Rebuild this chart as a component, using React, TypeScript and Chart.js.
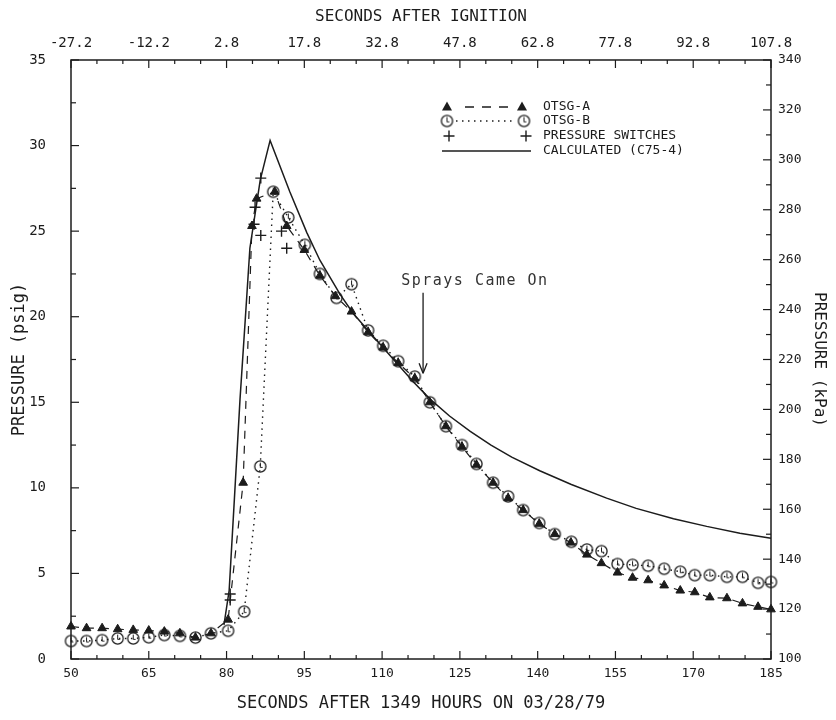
import React, { useEffect, useRef } from 'react';
import { Chart, registerables } from 'chart.js';

Chart.register(...registerables);

const INK = '#1c1c1c';
const MONO = '"DejaVu Sans Mono", "Liberation Mono", monospace';

// ---- data (seconds after 1349 hours, pressure psig) ----
const otsgATime = [50, 53, 56, 59, 62, 65, 68, 71, 74, 77, 80.3, 83.2, 84.9, 85.8, 89.3, 91.6, 95, 98, 101, 104.1, 107.3, 110.2, 113.1, 116.3, 119.2, 122.3, 125.4, 128.2, 131.4, 134.3, 137.2, 140.3, 143.3, 146.4, 149.5, 152.3, 155.4, 158.3, 161.3, 164.4, 167.5, 170.3, 173.2, 176.5, 179.5, 182.5, 185];
const otsgAPsig = [1.9, 1.8, 1.8, 1.74, 1.7, 1.66, 1.6, 1.5, 1.25, 1.5, 2.3, 10.3, 25.3, 26.9, 27.3, 25.3, 23.9, 22.4, 21.2, 20.3, 19.1, 18.2, 17.3, 16.4, 15.0, 13.6, 12.4, 11.35, 10.3, 9.4, 8.7, 7.9, 7.3, 6.8, 6.1, 5.6, 5.05, 4.75, 4.6, 4.3, 4.0, 3.9, 3.6, 3.55, 3.25, 3.05, 2.9];

const otsgBTime = [50, 53, 56, 59, 62, 65, 68, 71, 74, 77, 80.3, 83.4, 86.5, 89.0, 91.9, 95.1, 98, 101.2, 104.1, 107.3, 110.2, 113.1, 116.3, 119.2, 122.3, 125.4, 128.2, 131.4, 134.3, 137.2, 140.3, 143.3, 146.5, 149.5, 152.3, 155.4, 158.3, 161.3, 164.4, 167.5, 170.3, 173.2, 176.5, 179.5, 182.5, 185];
const otsgBPsig = [1.05, 1.05, 1.1, 1.2, 1.2, 1.27, 1.4, 1.35, 1.25, 1.5, 1.65, 2.77, 11.25, 27.3, 25.8, 24.2, 22.5, 21.1, 21.9, 19.2, 18.3, 17.4, 16.5, 15.0, 13.6, 12.5, 11.4, 10.3, 9.5, 8.7, 7.95, 7.3, 6.85, 6.4, 6.3, 5.55, 5.5, 5.45, 5.27, 5.1, 4.9, 4.9, 4.8, 4.8, 4.45, 4.5];

const switchTime = [80.7, 80.7, 85.3, 85.5, 86.6, 86.6, 90.6, 91.6];
const switchPsig = [3.45, 3.8, 25.4, 26.4, 28.1, 24.75, 25.0, 24.0];

const calcTime = [79.5, 80.5, 81.5, 82.6, 83.6, 84.5, 86.5, 88.4, 92.2, 95.5, 98, 101.9, 104.4, 108.3, 112.8, 116, 119.2, 123, 127, 131, 135, 140.4, 146.5, 153.3, 159, 166.2, 172.6, 179, 185];
const calcPsig = [2.0, 4.0, 9.3, 15.2, 19.8, 24.0, 28.0, 30.3, 27.3, 24.9, 23.3, 21.3, 20.2, 18.85, 17.3, 16.2, 15.2, 14.2, 13.3, 12.5, 11.8, 11.0, 10.2, 9.4, 8.8, 8.2, 7.75, 7.35, 7.05];

// ---- axes ----
const bottomTickValues = [50, 65, 80, 95, 110, 125, 140, 155, 170, 185];
const topTickValues = [-27.2, -12.2, 2.8, 17.8, 32.8, 47.8, 62.8, 77.8, 92.8, 107.8];
const psigTickValues = [0, 5, 10, 15, 20, 25, 30, 35];
const kpaTickValues = [100, 120, 140, 160, 180, 200, 220, 240, 260, 280, 300, 320, 340];

const legendLabels = ['OTSG-A', 'OTSG-B', 'PRESSURE SWITCHES', 'CALCULATED (C75-4)'];
const sprayLabel = 'Sprays Came On';
const sprayTime = 117.9;
const sprayArrowFrom = 21.4;
const sprayArrowTo = 16.7;
const sprayLabelTime = 127.9;
const sprayLabelPsig = 22.1;

const toXY = (xs: number[], ys: number[]) => xs.map((x, i) => ({ x, y: ys[i] }));

function makeClockCircle(): HTMLCanvasElement {
  const c = document.createElement('canvas');
  c.width = 15;
  c.height = 15;
  const g = c.getContext('2d')!;
  g.strokeStyle = INK;
  g.lineWidth = 1.3;
  g.beginPath();
  g.arc(7.5, 7.5, 5.6, 0, Math.PI * 2);
  g.stroke();
  g.lineWidth = 1;
  g.beginPath();
  g.moveTo(7.5, 3.6);
  g.lineTo(7.5, 8.4);
  g.lineTo(9.8, 8.4);
  g.stroke();
  return c;
}

function drawTriangle(ctx: CanvasRenderingContext2D, x: number, y: number) {
  ctx.beginPath();
  ctx.moveTo(x, y - 5.5);
  ctx.lineTo(x + 5, y + 3.5);
  ctx.lineTo(x - 5, y + 3.5);
  ctx.closePath();
  ctx.fill();
}

function drawCross(ctx: CanvasRenderingContext2D, x: number, y: number) {
  ctx.beginPath();
  ctx.moveTo(x - 5.5, y);
  ctx.lineTo(x + 5.5, y);
  ctx.moveTo(x, y - 5.5);
  ctx.lineTo(x, y + 5.5);
  ctx.stroke();
}

function makeFramePlugin(img: HTMLCanvasElement) {
  return {
    id: 'frameTicks',
    afterDatasetsDraw(chart: any) {
      const { ctx, chartArea: a, scales } = chart;
      ctx.save();
      ctx.strokeStyle = INK;
      ctx.lineWidth = 1.5;
      ctx.strokeRect(a.left, a.top, a.right - a.left, a.bottom - a.top);
      ctx.lineWidth = 1.2;
      const seg = (x1: number, y1: number, x2: number, y2: number) => {
        ctx.beginPath();
        ctx.moveTo(x1, y1);
        ctx.lineTo(x2, y2);
        ctx.stroke();
      };
      for (let k = 0; k <= 27; k++) {
        const px = scales.x.getPixelForValue(50 + k * 5);
        seg(px, a.bottom, px, a.bottom - (k % 3 === 0 ? 8 : 4));
      }
      for (let k = 0; k <= 27; k++) {
        const px = scales.xTop.getPixelForValue(-27.2 + k * 5);
        seg(px, a.top, px, a.top + (k % 3 === 0 ? 8 : 4));
      }
      for (let k = 0; k <= 14; k++) {
        const py = scales.y.getPixelForValue(k * 2.5);
        seg(a.left, py, a.left + (k % 2 === 0 ? 8 : 5), py);
      }
      for (let k = 0; k <= 24; k++) {
        const py = scales.yKpa.getPixelForValue(100 + k * 10);
        seg(a.right, py, a.right - (k % 2 === 0 ? 8 : 5), py);
      }

      // spray annotation
      const sx = scales.x.getPixelForValue(sprayTime);
      const sy1 = scales.y.getPixelForValue(sprayArrowFrom);
      const sy2 = scales.y.getPixelForValue(sprayArrowTo);
      ctx.lineWidth = 1.3;
      seg(sx, sy1, sx, sy2);
      seg(sx - 4, sy2 - 10, sx, sy2);
      seg(sx + 4, sy2 - 10, sx, sy2);
      ctx.fillStyle = '#333';
      ctx.font = `15px ${MONO}`;
      (ctx as any).letterSpacing = '1.5px';
      ctx.textAlign = 'center';
      ctx.textBaseline = 'middle';
      ctx.fillText(sprayLabel, scales.x.getPixelForValue(sprayLabelTime), scales.y.getPixelForValue(sprayLabelPsig));
      (ctx as any).letterSpacing = '0px';

      // legend
      const rows = [107, 121, 136, 151];
      const xl = 447;
      const xr = 522;
      ctx.fillStyle = INK;
      ctx.strokeStyle = INK;
      drawTriangle(ctx, xl, rows[0]);
      drawTriangle(ctx, xr, rows[0]);
      ctx.setLineDash([9, 8]);
      ctx.lineWidth = 1.3;
      seg(xl + 18, rows[0], xr - 12, rows[0]);
      ctx.setLineDash([]);
      ctx.drawImage(img, xl - 7.5, rows[1] - 7.5);
      ctx.drawImage(img, xr + 2 - 7.5, rows[1] - 7.5);
      ctx.setLineDash([1.5, 4.5]);
      ctx.lineWidth = 1.4;
      seg(xl + 9, rows[1], xr - 7, rows[1]);
      ctx.setLineDash([]);
      ctx.lineWidth = 1.4;
      drawCross(ctx, xl + 2, rows[2]);
      drawCross(ctx, xr + 4, rows[2]);
      ctx.lineWidth = 1.5;
      seg(xl - 5, rows[3], xr + 9, rows[3]);

      ctx.fillStyle = INK;
      ctx.font = `13px ${MONO}`;
      ctx.textAlign = 'left';
      ctx.textBaseline = 'middle';
      legendLabels.forEach((t, i) => ctx.fillText(t, 543, rows[i]));
      ctx.restore();
    },
  };
}

export default function App() {
  const ref = useRef<HTMLCanvasElement | null>(null);

  useEffect(() => {
    if (!ref.current) return;
    const clockImg = makeClockCircle();
    const tickFont = (size: number) => ({ family: MONO, size });
    const chart = new Chart(ref.current, {
      type: 'scatter',
      data: {
        datasets: [
          {
            label: legendLabels[2],
            data: toXY(switchTime, switchPsig),
            showLine: false,
            pointStyle: 'cross',
            pointRadius: 5.5,
            borderColor: INK,
            pointBorderWidth: 1.4,
            backgroundColor: INK,
            clip: false,
          },
          {
            label: legendLabels[1],
            data: toXY(otsgBTime, otsgBPsig),
            showLine: true,
            borderColor: INK,
            borderWidth: 1.4,
            borderDash: [1.5, 4.5],
            pointStyle: clockImg,
            pointRadius: 6,
            backgroundColor: 'rgba(0,0,0,0)',
            clip: false,
          },
          {
            label: legendLabels[0],
            data: toXY(otsgATime, otsgAPsig),
            showLine: true,
            borderColor: INK,
            borderWidth: 1.2,
            borderDash: [8, 7],
            pointStyle: 'triangle',
            pointRadius: 5,
            pointBorderWidth: 1,
            backgroundColor: INK,
            clip: false,
          },
          {
            label: legendLabels[3],
            data: toXY(calcTime, calcPsig),
            showLine: true,
            borderColor: INK,
            borderWidth: 1.5,
            pointRadius: 0,
            tension: 0,
            clip: false,
          },
        ],
      },
      options: {
        responsive: false,
        animation: false,
        devicePixelRatio: 1,
        events: [],
        layout: { padding: 0 },
        plugins: { legend: { display: false }, tooltip: { enabled: false } },
        scales: {
          x: {
            type: 'linear',
            position: 'bottom',
            min: 50,
            max: 185,
            afterBuildTicks: (s: any) => {
              s.ticks = bottomTickValues.map((v) => ({ value: v }));
            },
            afterFit: (s: any) => {
              s.height = 61;
            },
            grid: { display: false, drawTicks: false },
            border: { display: false },
            ticks: { color: INK, font: tickFont(13), padding: 7, maxRotation: 0, autoSkip: false, callback: (v: any) => String(v) },
            title: { display: true, text: 'SECONDS AFTER 1349 HOURS ON 03/28/79', color: INK, font: { family: MONO, size: 17 }, padding: { top: 0, bottom: 6 } },
          },
          xTop: {
            type: 'linear',
            position: 'top',
            min: -27.2,
            max: 107.8,
            afterBuildTicks: (s: any) => {
              s.ticks = topTickValues.map((v) => ({ value: v }));
            },
            afterFit: (s: any) => {
              s.height = 60;
            },
            grid: { display: false, drawTicks: false },
            border: { display: false },
            ticks: { color: INK, font: tickFont(14), padding: 8, maxRotation: 0, autoSkip: false, callback: (v: any) => Number(v).toFixed(1) },
            title: { display: true, text: 'SECONDS AFTER IGNITION', color: INK, font: { family: MONO, size: 16 }, padding: { top: 7, bottom: 0 } },
          },
          y: {
            type: 'linear',
            position: 'left',
            min: 0,
            max: 35,
            afterBuildTicks: (s: any) => {
              s.ticks = psigTickValues.map((v) => ({ value: v }));
            },
            afterFit: (s: any) => {
              s.width = 71;
            },
            grid: { display: false, drawTicks: false },
            border: { display: false },
            ticks: { color: INK, font: tickFont(14), padding: 25, autoSkip: false, callback: (v: any) => String(v) },
            title: { display: true, text: 'PRESSURE (psig)', color: INK, font: { family: MONO, size: 17 }, padding: { top: 9, bottom: 0 } },
          },
          yKpa: {
            type: 'linear',
            position: 'right',
            min: 100,
            max: 340,
            afterBuildTicks: (s: any) => {
              s.ticks = kpaTickValues.map((v) => ({ value: v }));
            },
            afterFit: (s: any) => {
              s.width = 65;
            },
            grid: { display: false, drawTicks: false },
            border: { display: false },
            ticks: { color: INK, font: tickFont(13), padding: 7, autoSkip: false, callback: (v: any) => String(v) },
            title: { display: true, text: 'PRESSURE (kPa)', color: INK, font: { family: MONO, size: 16 }, padding: { top: 7, bottom: 0 } },
          },
        },
      },
      plugins: [makeFramePlugin(clockImg)],
    } as any);
    return () => chart.destroy();
  }, []);

  return (
    <div style={{ position: 'fixed', left: 0, top: 0, width: 836, height: 720, background: '#fff' }}>
      <canvas ref={ref} width={836} height={720} style={{ width: 836, height: 720, display: 'block' }} />
    </div>
  );
}
